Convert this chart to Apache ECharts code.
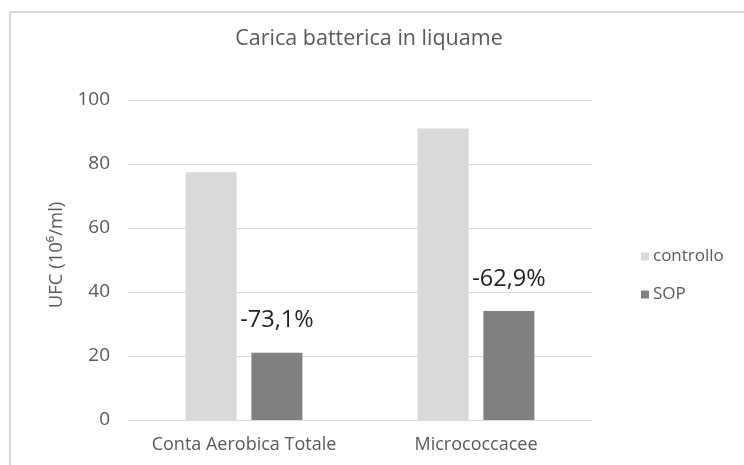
<!DOCTYPE html>
<html>
<head>
<meta charset="utf-8">
<script src="https://cdn.jsdelivr.net/npm/echarts@6/dist/echarts.min.js"></script>
<style>
	html, body { margin: 0; padding: 0; background: #fff; }
	#chart { width: 744px; height: 465px; }
</style>
</head>
<body>
<div id="chart"></div>
<script>
var categories = ['Conta Aerobica Totale', 'Micrococcacee'];
var controllo = [77.4, 91.1];
var sop = [21.0, 34.1];
var sopLabels = ['-73,1%', '-62,9%'];
var yTicks = [0, 20, 40, 60, 80, 100];

var font = 'Open Sans';

var chart = echarts.init(document.getElementById('chart'));
chart.setOption({
	animation: false,
	backgroundColor: '#fff',
	textStyle: { fontFamily: font },
	title: {
		text: 'Carica batterica in liquame',
		left: 364,
		top: 23,
		textAlign: 'center',
		textStyle: { color: '#595959', fontSize: 21.5, fontWeight: 'normal', fontFamily: font }
	},
	// cornice del grafico
	graphic: [{
		type: 'line',
		shape: { x1: 10, y1: 12, x2: 744, y2: 12 },
		style: { stroke: '#d9d9d9', lineWidth: 2 }
	}, {
		type: 'line',
		shape: { x1: 10, y1: 12, x2: 10, y2: 465 },
		style: { stroke: '#d9d9d9', lineWidth: 2 }
	}],
	legend: {
		orient: 'vertical',
		left: 636,
		top: 243,
		itemWidth: 8,
		itemHeight: 8,
		itemGap: 21,
		icon: 'rect',
		textStyle: { color: '#595959', fontSize: 17, fontFamily: font, padding: [0, 0, 0, -1] },
		data: ['controllo', 'SOP']
	},
	grid: {
		left: 128,
		right: 152,
		top: 100,
		bottom: 45
	},
	xAxis: {
		type: 'category',
		data: categories,
		axisTick: { show: false },
		axisLine: { lineStyle: { color: '#d9d9d9', width: 1 } },
		axisLabel: { color: '#595959', fontSize: 18, margin: 16, interval: 0, fontFamily: font }
	},
	yAxis: {
		type: 'value',
		min: yTicks[0],
		max: yTicks[yTicks.length - 1],
		interval: yTicks[1] - yTicks[0],
		name: 'UFC (10⁶/ml)',
		nameLocation: 'middle',
		nameGap: 62,
		nameRotate: 90,
		nameTextStyle: { color: '#595959', fontSize: 18.5, fontFamily: font, padding: [0, 0, 0, 10] },
		axisLine: { show: false },
		axisTick: { show: false },
		axisLabel: { color: '#595959', fontSize: 19, margin: 18, fontFamily: font },
		splitLine: { lineStyle: { color: '#d9d9d9', width: 1 } }
	},
	series: [{
		name: 'controllo',
		type: 'bar',
		data: controllo,
		barWidth: 51,
		barGap: '29%',
		itemStyle: { color: '#d9d9d9' }
	}, {
		name: 'SOP',
		type: 'bar',
		data: sop,
		barWidth: 51,
		itemStyle: { color: '#808080' },
		label: {
			show: true,
			position: 'top',
			distance: 20,
			color: '#1f1f1f',
			fontSize: 23.5,
			fontFamily: font,
			formatter: function(p) { return sopLabels[p.dataIndex]; }
		}
	}]
});
</script>
</body>
</html>
